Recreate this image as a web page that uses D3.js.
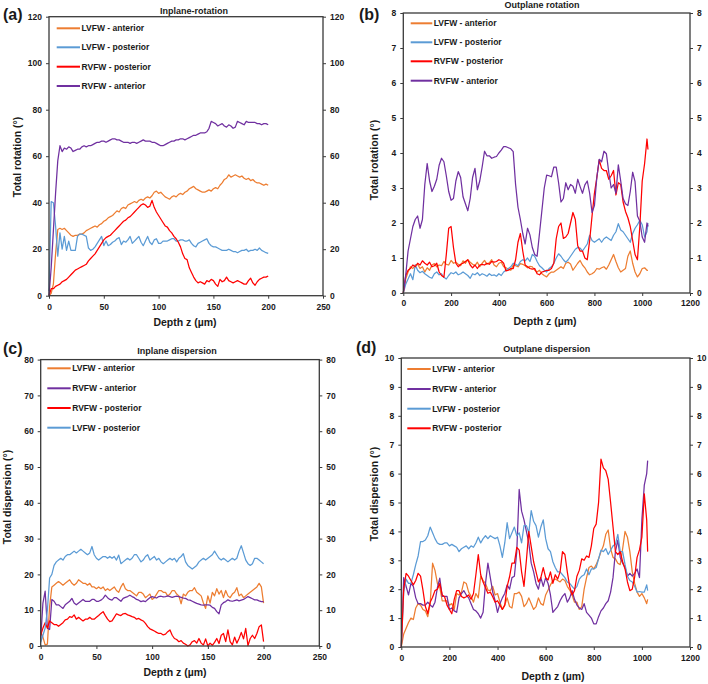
<!DOCTYPE html>
<html><head><meta charset="utf-8">
<script src="https://cdn.jsdelivr.net/npm/d3@7"></script>
<style>
body{margin:0;background:#fff}
text{font-family:"Liberation Sans",Arial,sans-serif;font-weight:bold;fill:#1a1a1a}
</style>
</head><body>
<svg id="chart" width="708" height="684"></svg>
<script>
// ---------- depth sampling (µm) ----------
const depthA = d3.range(0, 201, 2);             // panels (a), (c)
const depthB = d3.range(0, 1021, 10).concat([1024]); // panels (b), (d)

// ---------- (a) Inplane-rotation ----------
const rotInLVant = [0,1,5,18,28.5,29,28.5,29,28,27, 26,25.5,26,26,26.5,26.5,27,28,28.5,29, 29.5,30,29.5,30.5,31,32,32.5,33.5,34,34.5, 35.5,36.5,36,37.5,38,37.5,39,39.5,40,40.5, 40,41,41.5,41,42,42.5,42,43,44.5,45, 44,44.5,43.5,42.5,42,41.5,42.5,43,42.5,43.5, 44,43.5,44.5,45,46,46.5,47,46,45.5,45, 44.5,44.5,45,45.5,45,46,46.5,46,47.5,48.5, 50,50.5,52,51,51.5,52,51.5,51,51.5,50.5, 50,50.5,49.5,50,49,48.5,48.5,48,47.5,48, 47.5];
const rotInLVpost = [2,40.5,40,30,17,27,20,25.5,19.5,23.5, 19.5,19.5,19.5,25.5,26.5,26.5,26,25.5,20.5,19.5, 20,21,22.5,24,25.5,21.5,23.5,21.5,22,23, 23.5,24.5,25,22,23.5,23,24,25.5,22.5,23.5, 24.5,25.5,23,21.5,23.5,25.5,23,22,24,24.5, 22.5,22.5,23.5,23.5,23.5,24,24.5,24.5,23.5,23.5, 24,24,23.5,23.5,24,22.5,21.5,21,22.5,23, 23.5,24,24.5,22.5,21.5,21,21,20.5,20,19.5, 19.5,19.5,20,19.5,19,19,18.5,19,19.5,19.5, 20,19,19.5,19.5,20,19.5,20.5,19.5,19,18.5, 18.2];
const rotInRVpost = [0,3,3,4,4.5,5,6,6.5,7,8, 9,10,11,11.5,12,12.5,13,13.5,15,16, 17,18,19.5,21,22.5,24,25,25.5,26,27, 28,29,30,31,32,32.5,33.5,34,35,36, 37,38,39,39.5,39,38,38.5,41,38,36, 34.5,33,31.5,30,29.5,28,27,25.5,24.5,23, 21,18,16,15.5,12,10,8,6.5,5.5,6, 5.5,5,6.5,6,7,6.5,5,4,7,6, 6.5,8,6.5,6,5.5,6,6.5,6,5.5,5, 5,6.5,7.5,5.5,4.5,6,7,7.5,8,8, 8.5];
const rotInRVant = [0,12,28,44,58,64.5,62,63.5,63,64, 63.5,62,62.5,63,63,64,64.5,64,64.5,64.5, 65,65.5,66,66,66.5,66.5,66,66.5,67,67.5, 67.5,67,67,66.5,66,66,66,65.5,66,66, 65.5,66,66.5,67,66.5,66.5,66.5,66,66,65.5, 65,64.5,64.5,65,65.5,66,66.5,66.5,67,67, 67.5,67.5,67,67.5,68,68.5,69,69,69.5,70, 70,70,70.5,72,75,74.5,74,73,73.5,74, 73,72.5,73.5,73,72,72.5,75,74.5,74,73.5, 75,74.5,74.5,74.5,74.5,74,74,73.5,74,74, 73.5];

// ---------- (b) Outplane rotation ----------
const rotOutLVant = [0,0.4,0.6,0.75,0.7,0.8,0.82,0.7,0.75,0.6, 0.72,0.65,0.8,0.84,0.75,0.8,0.78,0.9,0.82,0.8, 0.93,0.85,0.88,0.82,0.78,0.92,0.85,0.95,0.88,0.82, 0.78,0.88,0.75,0.85,0.93,0.82,0.86,0.95,0.8,0.75, 0.85,0.88,0.75,0.72,0.68,0.65,0.8,0.78,0.75,0.84, 0.82,0.78,0.72,0.76,0.75,0.65,0.6,0.65,0.55,0.5, 0.46,0.55,0.6,0.6,0.65,0.7,0.75,0.7,0.85,0.88, 0.83,0.65,0.75,0.85,0.93,0.8,0.72,0.6,0.52,0.55, 0.6,0.7,0.68,0.72,0.75,0.68,0.8,0.95,1.1,0.9, 0.72,0.6,0.65,0.7,1.05,1.2,0.85,0.6,0.46,0.55, 0.7,0.72,0.65, 0.65];
const rotOutLVpost = [0,0.25,0.4,0.55,0.38,0.8,0.65,0.58,0.62,0.55, 0.5,0.45,0.42,0.55,0.6,0.52,0.55,0.45,0.4,0.5, 0.58,0.55,0.6,0.52,0.55,0.6,0.55,0.5,0.42,0.55, 0.52,0.58,0.5,0.55,0.52,0.48,0.55,0.5,0.52,0.48, 0.55,0.5,0.6,0.65,0.7,0.75,0.85,0.82,0.78,0.9, 0.95,0.92,1.0,0.9,1.1,1.05,0.9,0.78,0.72,0.65, 0.6,0.7,0.75,0.85,1.0,1.12,1.05,0.95,0.88,0.95, 1.05,1.15,1.25,1.3,1.28,1.2,1.3,1.4,1.65,1.5, 1.45,1.5,1.55,1.45,1.55,1.6,1.55,1.5,1.65,1.75, 1.98,1.8,1.75,1.65,1.55,1.45,1.7,1.85,1.95,2.08, 1.95,1.6,1.75, 2.0];
const rotOutRVpost = [0,0.5,0.65,0.7,0.8,0.75,0.85,0.8,0.92,0.85, 0.8,0.88,0.75,0.78,0.85,0.6,0.5,0.45,1.1,1.85, 1.9,1.3,0.85,0.75,0.82,0.85,0.9,0.95,0.8,0.72, 0.8,0.7,0.8,0.82,0.8,0.85,0.82,0.9,0.88,0.9, 0.95,0.92,0.85,0.63,0.65,0.7,0.7,0.95,1.45,1.7, 1.2,0.8,0.75,0.7,0.68,0.7,0.55,0.52,0.6,0.62, 0.65,0.65,0.7,0.85,1.55,1.9,2.0,1.56,1.6,1.7, 2.0,2.3,2.1,1.35,1.2,1.2,1.0,0.95,1.5,2.2, 2.85,3.3,3.8,3.56,3.5,3.5,3.25,3.35,3.5,2.8, 3.15,3.1,2.6,2.33,2.15,1.9,1.5,1.1,0.95,1.9, 3.2,3.7,4.4, 4.1];
const rotOutRVant = [0,0.5,1.2,1.55,1.9,2.1,2.2,1.85,2.1,3.1, 3.7,3.2,2.9,3.05,3.25,3.65,3.85,3.75,3.35,2.9, 2.65,2.7,3.2,3.47,3.3,2.75,2.55,2.35,2.7,3.3, 3.56,2.95,3.2,3.6,4.05,3.92,3.92,3.85,3.88,3.9, 4.0,4.08,4.18,4.18,4.15,4.12,4.04,3.1,2.45,2.1, 1.7,1.4,1.85,1.66,1.3,1.1,1.05,1.7,2.35,3.0, 3.37,3.35,3.32,3.6,3.6,3.15,2.6,2.7,3.15,2.95, 3.1,3.05,2.85,3.25,3.04,2.85,3.09,3.2,2.85,2.3, 2.5,3.3,3.82,3.75,4.05,3.98,3.45,3.0,3.1,2.85, 3.66,3.2,2.7,2.55,2.5,2.9,3.45,3.18,2.2,2.05, 1.6,1.45,2.0, 1.9];

// ---------- (c) Inplane dispersion ----------
const dispInLVant = [4,2.5,0.3,0.5,11,16.5,17,17.5,18,17.5, 17,17.5,18,18.5,17.5,17,17.5,18.5,18,17.5, 17.5,17,17.5,16.5,16.5,16,16.5,16,16.5,15.5, 16,15.5,16,16.5,15.5,15,16.5,17.5,16,15.5, 15.5,15,14.5,14,15,15,14.5,13.5,14,14.5, 13,13.5,14.5,15.5,15.5,15,15,14,14.5,15.5, 15.5,14.5,14,11.8,14.5,14,15,15.5,15.5,16.3, 15,14.5,14,12,10.5,14,12,15,14,16, 14.5,15.5,13.5,15.5,14,13.5,14.5,15,16.3,14, 14.5,13.5,14,14.5,15,15.5,16,16.5,17.5,16.5, 12];
const dispInRVant = [2,12,15.3,5,4.6,13,12.5,11.5,11.5,11, 10.5,11.5,12,12.5,13.3,12,11.5,12,12.5,13, 12.5,12.5,12.5,13,13,12.5,12.5,12.8,13.3,14.2, 13.5,13,12.8,13.5,13.5,13,12.5,13.3,13.6,13.8, 14.2,13.8,13.5,13,12.8,12.4,12.6,12.4,13,13.5, 13.8,13.6,13.4,13.8,13.9,13.7,13.8,14,13.8,13.6, 13.8,13.9,13.8,13.6,13.4,13.3,12.9,12.8,12.5,12.2, 11.9,11.7,11.5,11.4,11.5,11.5,11.4,10.8,10.5,9.6, 9,11.5,12.1,12.4,12.9,12.6,12.5,12.7,12.9,12.6, 12.8,13,13.4,13.8,13.5,13.2,12.9,12.9,12.6,12.4, 12.4];
const dispInRVpost = [3,5,6.5,5,7,6.5,6,6,5.5,6, 6.5,7.3,7.5,8.2,8,8.7,7.5,8,7.5,7, 7.5,7.5,8,7.5,7.5,8,8.5,9.1,9.6,8.5, 7.5,6.8,7,8,9,8.7,8.5,9,9.1,8.7, 8.5,8.2,8,7.5,7.7,7.3,7,6.3,5.4,4.8, 4.5,4.2,3.8,3.5,3.5,3.1,3.3,4,4.5,3, 2.1,1.8,1.2,1.5,0.8,0.5,0,0.3,1.2,1.5, 0.8,2.1,0.8,0.3,2,0,0.8,0.2,1,2.1, 0.7,3,3.5,1.2,4.5,1.2,0.3,2.5,0.8,2.1, 3.8,2,4.9,0.1,2.1,3,2.1,3.5,5.4,5.9, 1.2];
const dispInLVpost = [1,3,5,10,19,20,22.5,23.5,24,24.5, 24,25,25.5,25.5,26,26.5,26,26.5,27,26.5, 26,25.5,26,27.8,25.5,24.5,24,24.5,25,25, 24.5,25,24.5,25,24,25.4,23,23.5,24,24.5, 24,24.5,25.5,25.5,24.5,23.5,24,25,25.5,24, 24.5,25,24,24.5,23.5,23,23.5,24,24.5,24, 24.5,23.5,24.5,25,25.8,23.5,22.5,22,21.5,22, 22.5,23.5,24,24.5,24,24.5,25,25.5,26.5,25.5, 24.5,24,24.5,24,23.5,24,24.5,24,24.5,26.5, 28,26,24,23,22.5,23,24.5,24.5,24,23.5, 23];

// ---------- (d) Outplane dispersion ----------
const dispOutLVant = [0,0.45,0.65,0.85,1.0,0.95,1.35,1.5,1.45,1.3, 1.25,1.05,1.5,2.9,2.65,2.2,2.05,1.6,1.6,1.6, 1.45,1.5,1.3,1.85,1.8,1.9,2.25,2.2,1.9,1.75, 1.55,1.85,1.7,2.45,2.3,2.2,1.97,1.95,2.1,1.8, 1.85,1.55,1.3,1.45,1.7,1.4,1.35,1.85,1.85,1.9, 1.75,1.4,1.5,1.7,1.5,1.3,1.4,1.7,1.5,1.45, 1.8,1.97,2.15,2.3,2.35,2.3,2.25,2.35,2.3,2.1, 1.97,1.8,1.55,1.55,1.3,1.4,2.0,2.4,2.75,2.8, 2.7,2.85,3.05,3.3,3.5,3.9,4.05,3.4,3.1,3.05, 2.9,2.85,3.4,4.0,3.8,3.3,2.6,2.2,1.9,1.75, 1.85,1.7,1.5, 1.65];
const dispOutRVant = [0,2.4,2.1,1.8,2.2,2.1,1.7,1.5,1.5,1.45, 1.45,1.55,1.45,1.38,1.55,2.05,2.38,1.75,1.75,1.75, 1.3,1.35,1.25,1.2,1.7,1.85,1.95,1.8,1.7,1.5, 1.3,1.25,1.15,1.0,1.2,2.2,2.9,2.4,1.9,1.6, 1.2,1.5,1.7,1.85,2.15,2.0,2.4,2.45,3.3,5.45, 4.7,4.4,4.0,3.6,2.9,2.6,2.2,2.0,2.4,2.1, 2.4,2.2,1.8,1.2,1.3,1.4,1.6,1.75,1.85,1.55, 1.7,1.95,1.65,1.45,1.35,1.3,1.5,1.2,1.1,1.0, 0.8,0.8,1.05,1.25,1.35,1.5,1.6,1.9,2.4,3.3, 3.7,3.1,2.9,2.75,2.45,2.55,2.45,2.55,2.7,2.4, 4.4,5.6,6.0, 6.45];
const dispOutLVpost = [0,1.9,2.35,2.2,2.2,2.5,2.85,3.15,3.65,3.65, 3.7,3.85,4.15,3.95,3.75,3.6,3.55,3.55,3.6,3.6, 3.5,3.55,3.5,3.45,3.3,3.4,3.45,3.5,3.4,3.5, 3.45,3.6,3.8,3.6,3.75,3.85,3.75,3.85,3.8,3.75, 3.8,3.5,3.1,3.6,4.3,3.75,3.95,4.15,3.85,3.95, 3.6,4.2,4.2,3.95,4.72,4.35,4.2,3.8,4.15,4.4, 3.75,3.4,3.3,2.95,2.75,2.6,2.6,2.5,2.4,2.25, 2.2,2.1,2.0,2.1,2.35,2.45,2.5,2.7,2.5,2.7, 2.7,2.75,3.05,3.35,3.3,3.4,3.2,3.35,3.5,3.55, 3.9,3.3,3.3,2.85,2.45,2.3,2.25,2.1,1.9,1.92, 1.9,1.9,2.15, 1.95];
const dispOutRVpost = [0,2.0,2.55,2.45,2.3,2.15,2.3,2.55,2.45,1.97, 1.4,1.16,1.55,1.72,1.95,2.0,2.2,1.8,1.74,1.45, 1.3,1.15,1.65,1.95,1.95,1.75,1.7,1.74,1.8,1.65, 1.85,2.5,3.2,2.5,2.25,2.05,1.86,1.9,1.74,1.55, 1.6,1.45,1.3,1.45,2.1,2.43,2.9,2.9,3.45,3.35, 2.6,2.1,3.0,4.0,3.47,2.95,2.6,2.25,2.4,2.75, 2.4,2.32,2.6,2.2,2.5,2.35,2.6,3.3,3.2,2.6, 2.09,1.8,1.95,2.45,2.66,3.05,3.0,3.15,3.1,3.5, 4.1,4.25,5.0,6.5,6.2,6.1,5.8,5.0,4.16,3.3, 3.2,3.3,2.95,2.7,2.25,1.95,2.0,2.43,3.1,3.36, 3.8,5.3,4.4, 3.3];

// ---------- tick labels ----------
const ticksXa = [0,50,100,150,200,250];
const ticksXb = [0,200,400,600,800,1000,1200];
const ticksYa = [0,20,40,60,80,100,120];
const ticksYb = [0,1,2,3,4,5,6,7,8];
const ticksYc = [0,10,20,30,40,50,60,70,80];
const ticksYd = [0,1,2,3,4,5,6,7,8,9,10];

const C = {orange:"#ED7D31", blue:"#5B9BD5", red:"#FF0000", purple:"#7030A0"};
const svg = d3.select("#chart");
const fmt = d3.format("d");

function drawPanel(p){
  const x = d3.scaleLinear().domain(p.xDomain).range([p.left, p.right]);
  const y = d3.scaleLinear().domain(p.yDomain).range([p.bottom, p.top]);
  const g = svg.append("g");
  const line = d3.line().x(d => x(d[0])).y(d => y(d[1]));
  p.series.forEach(s => {
    const pts = s.values.map((v,i) => [p.depth[i], v]);
    g.append("path").attr("d", line(pts)).attr("fill","none")
      .attr("stroke", s.color).attr("stroke-width", 1.25).attr("stroke-linejoin","round");
  });
  g.append("rect").attr("x", p.left).attr("y", p.top)
    .attr("width", p.right - p.left).attr("height", p.bottom - p.top)
    .attr("fill","none").attr("stroke","#3a3a3a").attr("stroke-width",1.3);
  const style = sel => {
    sel.select(".domain").remove();
    sel.selectAll(".tick line").attr("stroke","#3a3a3a");
    sel.selectAll(".tick text").style("font-size","8.5px").attr("fill","#1a1a1a");
  };
  g.append("g").attr("transform",`translate(${p.left},0)`)
    .call(d3.axisLeft(y).tickValues(p.yTicks).tickFormat(fmt).tickSize(3).tickPadding(4)).call(style);
  g.append("g").attr("transform",`translate(${p.right},0)`)
    .call(d3.axisRight(y).tickValues(p.yTicks).tickFormat(fmt).tickSize(3).tickPadding(4)).call(style);
  g.append("g").attr("transform",`translate(0,${p.bottom})`)
    .call(d3.axisBottom(x).tickValues(p.xTicks).tickFormat(fmt).tickSize(3).tickPadding(p.xPad)).call(style);
  // panel letter, title
  g.append("text").attr("x", p.letterX).attr("y", p.letterY).style("font-size","16px").text(p.letter);
  g.append("text").attr("x", p.titleX).attr("y", p.titleY).attr("text-anchor","middle")
    .style("font-size","9px").text(p.title);
  g.append("text").attr("x", p.xTitleX).attr("y", p.xTitleY).attr("text-anchor","middle")
    .style("font-size","10.5px").text("Depth z (µm)");
  g.append("text").attr("transform",`translate(${p.yTitleX},${p.yTitleY}) rotate(-90)`)
    .attr("text-anchor","middle").attr("dy","0.35em").style("font-size","10.5px").text(p.yTitle);
  // legend
  p.series.forEach((s,i) => {
    const ly = p.legendY[i];
    g.append("line").attr("x1", p.legX1).attr("x2", p.legX2).attr("y1", ly).attr("y2", ly)
      .attr("stroke", s.color).attr("stroke-width", 2);
    g.append("text").attr("x", p.legX2 + 1.5).attr("y", ly).attr("dy","0.35em")
      .style("font-size","8.5px").text(s.name);
  });
}

drawPanel({
  left:49, right:323, top:16.7, bottom:295.7, xDomain:[0,250], yDomain:[0,120],
  xTicks:ticksXa, yTicks:ticksYa, xPad:5, depth:depthA,
  letter:"(a)", letterX:3, letterY:20, title:"Inplane-rotation", titleX:194, titleY:14,
  xTitleX:185, xTitleY:326, yTitleX:17.5, yTitleY:157, yTitle:"Total rotation (°)",
  legX1:56.7, legX2:80, legendY:[28.3,47.3,66.7,86],
  series:[
    {name:"LVFW - anterior", color:C.orange, values:rotInLVant},
    {name:"LVFW - posterior", color:C.blue, values:rotInLVpost},
    {name:"RVFW - posterior", color:C.red, values:rotInRVpost},
    {name:"RVFW - anterior", color:C.purple, values:rotInRVant}]
});
drawPanel({
  left:403.3, right:690, top:13, bottom:293, xDomain:[0,1200], yDomain:[0,8],
  xTicks:ticksXb, yTicks:ticksYb, xPad:4, depth:depthB,
  letter:"(b)", letterX:359, letterY:20, title:"Outplane rotation", titleX:542, titleY:7.5,
  xTitleX:545, xTitleY:325, yTitleX:374.7, yTitleY:160, yTitle:"Total rotation (°)",
  legX1:410.7, legX2:432.3, legendY:[23.3,42.3,61.3,80.7],
  series:[
    {name:"LVFW - anterior", color:C.orange, values:rotOutLVant},
    {name:"LVFW - posterior", color:C.blue, values:rotOutLVpost},
    {name:"RVFW - posterior", color:C.red, values:rotOutRVpost},
    {name:"RVFW - anterior", color:C.purple, values:rotOutRVant}]
});
drawPanel({
  left:40.7, right:319.3, top:359.6, bottom:646, xDomain:[0,250], yDomain:[0,80],
  xTicks:ticksXa, yTicks:ticksYc, xPad:5, depth:depthA,
  letter:"(c)", letterX:3, letterY:354, title:"Inplane dispersion", titleX:177, titleY:353.5,
  xTitleX:175, xTitleY:676, yTitleX:7.5, yTitleY:497, yTitle:"Total dispersion (°)",
  legX1:47.3, legX2:70.7, legendY:[368.3,388.3,408,427.7],
  series:[
    {name:"LVFW - anterior", color:C.orange, values:dispInLVant},
    {name:"RVFW - anterior", color:C.purple, values:dispInRVant},
    {name:"RVFW - posterior", color:C.red, values:dispInRVpost},
    {name:"LVFW - posterior", color:C.blue, values:dispInLVpost}]
});
drawPanel({
  left:401.3, right:690, top:358, bottom:647, xDomain:[0,1200], yDomain:[0,10],
  xTicks:ticksXb, yTicks:ticksYd, xPad:5, depth:depthB,
  letter:"(d)", letterX:356, letterY:353, title:"Outplane dispersion", titleX:546.7, titleY:352,
  xTitleX:553, xTitleY:679.5, yTitleX:374.5, yTitleY:494, yTitle:"Total dispersion (°)",
  legX1:407.3, legX2:430.7, legendY:[369,389,408.7,428.3],
  series:[
    {name:"LVFW - anterior", color:C.orange, values:dispOutLVant},
    {name:"RVFW - anterior", color:C.purple, values:dispOutRVant},
    {name:"LVFW - posterior", color:C.blue, values:dispOutLVpost},
    {name:"RVFW - posterior", color:C.red, values:dispOutRVpost}]
});
</script>
</body></html>
